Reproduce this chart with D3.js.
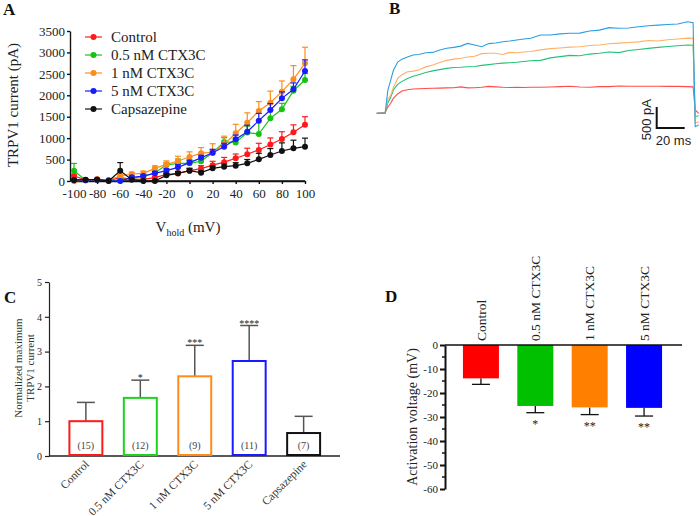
<html>
<head>
<meta charset="utf-8">
<style>
  body { margin: 0; background: #fff; }
  svg text { font-family: "Liberation Serif", "Times New Roman", serif; fill: #222; }
  .sans { font-family: "Liberation Sans", Arial, sans-serif !important; }
</style>
<script src="https://d3js.org/d3.v7.min.js"></script>
</head>
<body>
<svg width="700" height="516"></svg>
<script>
// ---------- panel A : I-V curves ----------
const voltage = d3.range(-100, 101, 10);
const seriesNames = ['Control', '0.5 nM CTX3C', '1 nM CTX3C', '5 nM CTX3C', 'Capsazepine'];
const control    = [117, 25, 40, 10, 80, 40, 40, 78, 155, 175, 241, 290, 370, 440, 530, 625, 725, 850, 980, 1140, 1310];
const controlErr = [40, 15, 15, 10, 30, 20, 20, 30, 40, 50, 60, 70, 90, 110, 100, 140, 155, 155, 170, 170, 190];
const ctx05      = [240, 20, 30, 10, 20, 62, 101, 194, 373, 412, 412, 460, 660, 910, 900, 1130, 1097, 1462, 1672, 2108, 2357];
const ctx05Err   = [170, 15, 15, 10, 20, 30, 40, 50, 60, 100, 70, 80, 60, 100, 100, 150, 320, 195, 140, 100, 150];
const ctx1       = [0, 20, 40, 20, 117, 163, 179, 295, 389, 467, 560, 650, 670, 856, 1113, 1360, 1633, 1827, 2084, 2372, 2746];
const ctx1Err    = [20, 15, 15, 10, 30, 40, 50, 60, 80, 110, 120, 130, 200, 190, 210, 230, 220, 270, 250, 320, 375];
const ctx5       = [30, 20, 30, 10, 0, 86, 117, 179, 241, 319, 428, 540, 660, 800, 972, 1151, 1408, 1657, 1929, 2139, 2566];
const ctx5Err    = [20, 10, 10, 10, 10, 30, 30, 40, 50, 60, 60, 60, 80, 80, 100, 150, 170, 150, 150, 150, 260];
const capsa      = [20, 30, 30, 0, 240, 30, 0, 0, 132, 179, 241, 195, 296, 334, 357, 412, 506, 607, 700, 762, 800];
const capsaErr   = [10, 10, 10, 10, 190, 20, 10, 10, 40, 40, 50, 40, 50, 60, 70, 90, 140, 150, 190, 190, 200];
const colorsA = ['#ff1a1a', '#17c217', '#ff8c1a', '#1a1aff', '#111'];

// ---------- panel B : current traces ----------
const traceTime = [0, 6, 8, 10, 12, 15, 18, 22, 26, 30, 35, 40, 45, 50, 55, 60, 65, 70, 75, 80, 85, 90, 95, 100, 105, 110,
  117, 124, 131, 138, 145, 152, 159, 166, 173, 180, 187, 194, 201, 208, 215, 222, 226, 227.5, 230];
const traceRed    = [0, 20, 150, 240, 360, 460, 530, 560, 580, 585, 590, 595, 600, 605, 610, 630, 605, 610, 620, 640, 630, 620, 615, 620, 615, 620,
  620, 625, 635, 645, 625, 620, 635, 635, 650, 645, 645, 645, 645, 640, 640, 635, 630, 80, 0];
const traceGreen  = [0, 0, 250, 380, 560, 690, 760, 830, 880, 920, 970, 1010, 1040, 1070, 1090, 1095, 1110, 1115, 1140, 1160, 1180, 1195, 1205, 1215, 1235, 1250,
  1260, 1320, 1350, 1380, 1370, 1410, 1430, 1460, 1445, 1495, 1520, 1545, 1570, 1590, 1610, 1625, 1620, -80, -60];
const traceOrange = [0, 0, 340, 430, 620, 830, 920, 990, 1005, 1030, 1105, 1150, 1210, 1260, 1290, 1310, 1340, 1360, 1420, 1430, 1430, 1400, 1450, 1440, 1460, 1470,
  1510, 1540, 1555, 1575, 1585, 1615, 1625, 1655, 1670, 1685, 1700, 1735, 1720, 1750, 1770, 1790, 1785, -230, -200];
const traceBlue   = [0, 0, 555, 790, 1030, 1220, 1290, 1340, 1390, 1400, 1440, 1450, 1505, 1550, 1570, 1600, 1665, 1625, 1585, 1660, 1675, 1705, 1720, 1745, 1770, 1785,
  1865, 1865, 1890, 1905, 1910, 1960, 1980, 2040, 2025, 2030, 2060, 2085, 2100, 2115, 2125, 2180, 2155, -320, -280];

// ---------- panel C : normalized max current ----------
const catsC = ['Control', '0.5 nM CTX3C', '1 nM CTX3C', '5 nM CTX3C', 'Capsazepine'];
const normCurrent = [1.0, 1.67, 2.29, 2.73, 0.66];
const normErr = [0.54, 0.51, 0.89, 1.02, 0.48];
const nCells = ['(15)', '(12)', '(9)', '(11)', '(7)'];
const starsC = ['', '*', '***', '****', ''];
const colorsC = ['#ff1a1a', '#1ed21e', '#ff8c1a', '#1a1aff', '#111'];

// ---------- panel D : activation voltage ----------
const catsD = ['Control', '0.5 nM CTX3C', '1 nM CTX3C', '5 nM CTX3C'];
const actVoltage = [-13.9, -25.4, -26.0, -26.2];
const actErr = [2.5, 2.8, 3.0, 3.4];
const starsD = ['', '*', '**', '**'];
const colorsD = ['#ff0000', '#00c000', '#ff8000', '#0000ff'];

const svg = d3.select('svg');
svg.append('rect').attr('width', 700).attr('height', 516).attr('fill', '#fff');
const plain = d => String(d); // hyphen minus, no thousands separator

function letter(t, x, y) {
  svg.append('text').attr('x', x).attr('y', y).text(t)
    .style('font-size', '17px').style('font-weight', 'bold').style('fill', '#111');
}
letter('A', 3, 15);
letter('B', 389, 14);
letter('C', 4, 303);
letter('D', 385, 302);

// ===== A =====
const xA = d3.scaleLinear().domain([-100, 100]).range([74, 305]);
const yA = d3.scaleLinear().domain([0, 3500]).range([181, 31]);
const gA = svg.append('g');

const yAxA = gA.append('g').attr('transform', 'translate(70,0)')
  .call(d3.axisLeft(yA).tickValues(d3.range(0, 3501, 500)).tickFormat(plain).tickSize(3).tickPadding(2).tickSizeOuter(0));
const xAxA = gA.append('g').attr('transform', 'translate(0,181)')
  .call(d3.axisBottom(xA).tickValues(d3.range(-100, 101, 20)).tickFormat(plain).tickSize(3).tickPadding(5).tickSizeOuter(0));
gA.append('line').attr('x1', 70).attr('x2', 305).attr('y1', 181).attr('y2', 181).attr('stroke', '#111').attr('stroke-width', 1.4);
[yAxA, xAxA].forEach(a => {
  a.selectAll('text').style('font-size', '13px').style('font-family', '"Liberation Serif", serif').attr('fill', '#222');
  a.selectAll('line,path').attr('stroke', '#111').attr('stroke-width', 1.4);
});

gA.append('text').attr('transform', 'translate(18,105) rotate(-90)').attr('text-anchor', 'middle')
  .style('font-size', '15px').text('TRPV1 current (pA)');
const xl = gA.append('text').attr('x', 188).attr('y', 232).attr('text-anchor', 'middle').style('font-size', '15px');
xl.append('tspan').text('V');
xl.append('tspan').attr('dy', 4).style('font-size', '10px').text('hold');
xl.append('tspan').attr('dy', -4).text(' (mV)');

const seriesA = [
  { name: seriesNames[0], values: control, err: controlErr, color: colorsA[0] },
  { name: seriesNames[1], values: ctx05, err: ctx05Err, color: colorsA[1] },
  { name: seriesNames[2], values: ctx1, err: ctx1Err, color: colorsA[2] },
  { name: seriesNames[3], values: ctx5, err: ctx5Err, color: colorsA[3] },
  { name: seriesNames[4], values: capsa, err: capsaErr, color: colorsA[4] }
];
const lineA = d3.line().x((d, i) => xA(voltage[i])).y(d => yA(d));

seriesA.forEach(s => {
  const g = gA.append('g');
  s.values.forEach((v, i) => {
    const x = xA(voltage[i]), y0 = yA(v), y1 = yA(v + s.err[i]);
    g.append('line').attr('x1', x).attr('x2', x).attr('y1', y0).attr('y2', y1).attr('stroke', s.color).attr('stroke-width', 1.2);
    g.append('line').attr('x1', x - 3).attr('x2', x + 3).attr('y1', y1).attr('y2', y1).attr('stroke', s.color).attr('stroke-width', 1.2);
  });
  g.append('path').datum(s.values).attr('d', lineA).attr('fill', 'none').attr('stroke', s.color).attr('stroke-width', 1.2);
  g.selectAll('circle').data(s.values).join('circle')
    .attr('cx', (d, i) => xA(voltage[i])).attr('cy', d => yA(d)).attr('r', 3).attr('fill', s.color);
});

// legend
seriesA.forEach((s, i) => {
  const y = 37 + i * 18;
  gA.append('line').attr('x1', 85).attr('x2', 102).attr('y1', y).attr('y2', y).attr('stroke', s.color).attr('stroke-width', 1.2);
  gA.append('circle').attr('cx', 93.5).attr('cy', y).attr('r', 3).attr('fill', s.color);
  gA.append('text').attr('x', 111).attr('y', y + 5).style('font-size', '15px').text(s.name);
});

// ===== B =====
const xB = d3.scaleLinear().domain([0, 20]).range([376.7, 404.7]);
const yB = d3.scaleLinear().domain([0, 500]).range([113.3, 92.3]);
const gB = svg.append('g');
const lineB = d3.line().x((d, i) => xB(traceTime[i])).y(d => yB(d));
[[traceRed, '#ff4d4d'], [traceGreen, '#22c27a'], [traceOrange, '#ffb066'], [traceBlue, '#2a9fe0']].forEach(([tr, c]) => {
  gB.append('path').datum(tr).attr('d', lineB).attr('fill', 'none').attr('stroke', c).attr('stroke-width', 1.1);
});
// scale bar: 500 pA, 20 ms
gB.append('path')
  .attr('d', `M${xB(200)},${yB(150)}V${yB(-350)}H${xB(220)}`)
  .attr('fill', 'none').attr('stroke', '#111').attr('stroke-width', 2);
gB.append('text').attr('class', 'sans').attr('transform', `translate(${xB(200) - 6},${yB(-150)}) rotate(-90)`)
  .attr('text-anchor', 'middle').style('font-size', '13px').style('fill', '#222').text('500 pA');
gB.append('text').attr('class', 'sans').attr('x', xB(212)).attr('y', 145)
  .attr('text-anchor', 'middle').style('font-size', '13px').style('fill', '#222').text('20 ms');

// ===== C =====
const xC = d3.scaleBand().domain(catsC).range([58.6, 330.9]).paddingInner(0.358).paddingOuter(0.18);
const yC = d3.scaleLinear().domain([0, 5]).range([456, 282]);
const gC = svg.append('g');
const yAxC = gC.append('g').attr('transform', 'translate(49,0)')
  .call(d3.axisLeft(yC).ticks(5).tickFormat(plain).tickSize(4).tickPadding(3).tickSizeOuter(0));
yAxC.selectAll('text').style('font-size', '10px').style('font-family', '"Liberation Serif", serif').attr('fill', '#333');
yAxC.selectAll('line,path').attr('stroke', '#222').attr('stroke-width', 1.2);
gC.append('line').attr('x1', 49).attr('x2', 340).attr('y1', 456).attr('y2', 456).attr('stroke', '#222').attr('stroke-width', 1.5);

catsC.forEach((c, i) => {
  const x = xC(c), w = xC.bandwidth(), cx = x + w / 2;
  const top = yC(normCurrent[i]), et = yC(normCurrent[i] + normErr[i]);
  gC.append('line').attr('x1', cx).attr('x2', cx).attr('y1', top).attr('y2', et).attr('stroke', '#555').attr('stroke-width', 1.5);
  gC.append('line').attr('x1', cx - 9).attr('x2', cx + 9).attr('y1', et).attr('y2', et).attr('stroke', '#555').attr('stroke-width', 1.5);
  gC.append('rect').attr('x', x + 1).attr('y', top).attr('width', w - 2).attr('height', yC(0) - top - 1)
    .attr('fill', '#fff').attr('stroke', colorsC[i]).attr('stroke-width', 2);
  gC.append('text').attr('x', cx).attr('y', 449).attr('text-anchor', 'middle').style('font-size', '10px').style('fill', '#444').text(nCells[i]);
  if (starsC[i]) gC.append('text').attr('x', cx).attr('y', et + 1).attr('text-anchor', 'middle').style('font-size', '10px').text(starsC[i]);
  gC.append('text').attr('transform', `translate(${cx + 4},465) rotate(-45)`).attr('text-anchor', 'end')
    .style('font-size', '11.5px').style('fill', '#333').text(c);
});
const ylC = gC.append('text').attr('transform', 'translate(22,368) rotate(-90)').attr('text-anchor', 'middle')
  .style('font-size', '11px').style('fill', '#333');
ylC.append('tspan').attr('x', 0).attr('dy', 0).text('Normalized maximum');
ylC.append('tspan').attr('x', 0).attr('dy', 12).text('TRPV1 current');

// ===== D =====
const xD = d3.scaleBand().domain(catsD).range([445, 680]).paddingInner(0.338).paddingOuter(0.33);
const yD = d3.scaleLinear().domain([-60, 0]).range([489, 345]);
const gD = svg.append('g');
const yAxD = gD.append('g').attr('transform', 'translate(445,0)')
  .call(d3.axisLeft(yD).tickValues(d3.range(-60, 1, 10)).tickFormat(plain).tickSize(5).tickPadding(2).tickSizeOuter(0));
yAxD.selectAll('text').style('font-size', '11px').style('font-family', '"Liberation Serif", serif').attr('fill', '#222');
yAxD.selectAll('line,path').attr('stroke', '#111').attr('stroke-width', 2);
gD.selectAll('.minor').data(d3.range(-55, 0, 10)).join('line')
  .attr('x1', 442).attr('x2', 445).attr('y1', d => yD(d)).attr('y2', d => yD(d)).attr('stroke', '#111').attr('stroke-width', 1.5);

catsD.forEach((c, i) => {
  const x = xD(c), w = xD.bandwidth(), cx = x + w / 2;
  const bot = yD(actVoltage[i]), eb = yD(actVoltage[i] - actErr[i]);
  gD.append('line').attr('x1', cx).attr('x2', cx).attr('y1', bot).attr('y2', eb).attr('stroke', '#111').attr('stroke-width', 1.3);
  gD.append('line').attr('x1', cx - 9).attr('x2', cx + 9).attr('y1', eb).attr('y2', eb).attr('stroke', '#111').attr('stroke-width', 1.3);
  gD.append('rect').attr('x', x).attr('y', yD(0)).attr('width', w).attr('height', bot - yD(0)).attr('fill', colorsD[i]);
  if (starsD[i]) gD.append('text').attr('x', cx).attr('y', eb + 15).attr('text-anchor', 'middle').style('font-size', '12px').text(starsD[i]);
  gD.append('text').attr('transform', `translate(${cx},341) rotate(-90)`).attr('dy', '0.35em')
    .style('font-size', '13.5px').style('fill', '#222').text(c);
});
gD.append('line').attr('x1', 445).attr('x2', 682).attr('y1', 345).attr('y2', 345).attr('stroke', '#111').attr('stroke-width', 1.5);
gD.append('text').attr('transform', 'translate(417,417) rotate(-90)').attr('text-anchor', 'middle')
  .style('font-size', '14px').style('fill', '#222').text('Activation voltage (mV)');
</script>
</body>
</html>
